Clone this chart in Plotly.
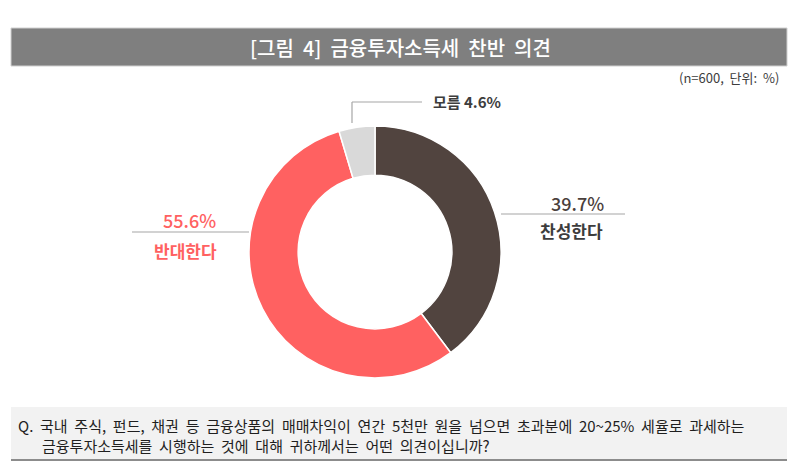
import plotly.graph_objects as go

# The page body has an 8px margin, so the figure is drawn 8px in from the top-left.
OFF = 8
W, H = 800 - OFF, 469 - OFF

labels = ["찬성한다", "반대한다", "모름"]
values = [39.7, 55.6, 4.6]
colors = ["#51443f", "#ff6161", "#d9d9d9"]

NB = "\u00a0"
title_text = "[그림 4] 금융투자소득세 찬반 의견"
note_text = "(n=600, 단위: %)"
q_line1 = "Q. 국내 주식, 펀드, 채권 등 금융상품의 매매차익이 연간 5천만 원을 넘으면 초과분에 20~25% 세율로 과세하는"
q_line2 = "금융투자소득세를 시행하는 것에 대해 귀하께서는 어떤 의견이십니까?"

FONT = "Noto Sans CJK KR"


def wide(s, n=2):
    return s.replace(" ", NB * n)


def px(x):
    return (x - OFF) / W


def py(y):
    return 1 - (y - OFF) / H


cx, cy, r = 375, 252, 126

fig = go.Figure(
    go.Pie(
        labels=labels,
        values=values,
        hole=0.61,
        sort=False,
        direction="clockwise",
        rotation=0,
        marker=dict(colors=colors, line=dict(color="white", width=1.5)),
        textinfo="none",
        hoverinfo="label+percent",
        showlegend=False,
        domain=dict(x=[px(cx - r), px(cx + r)], y=[py(cy + r), py(cy - r)]),
    )
)

shapes = [
    # title bar
    dict(type="rect", xref="paper", yref="paper", x0=px(11), x1=px(787), y0=py(66), y1=py(28),
         fillcolor="#7f7f7f", line=dict(color="#d0d0d0", width=1), layer="below"),
    # question box
    dict(type="rect", xref="paper", yref="paper", x0=px(11), x1=px(787), y0=py(460), y1=py(407),
         fillcolor="#f2f2f2", line=dict(width=0), layer="below"),
    dict(type="line", xref="paper", yref="paper", x0=px(11), x1=px(787), y0=py(460), y1=py(460),
         line=dict(color="#8c8c8c", width=2)),
    # leader lines
    dict(type="line", xref="paper", yref="paper", x0=px(352), x1=px(352), y0=py(123), y1=py(102),
         line=dict(color="#a6a6a6", width=1.2)),
    dict(type="line", xref="paper", yref="paper", x0=px(352), x1=px(422), y0=py(102), y1=py(102),
         line=dict(color="#a6a6a6", width=1.2)),
    dict(type="line", xref="paper", yref="paper", x0=px(501), x1=px(625), y0=py(214), y1=py(214),
         line=dict(color="#a6a6a6", width=1.2)),
    dict(type="line", xref="paper", yref="paper", x0=px(132), x1=px(249), y0=py(232), y1=py(232),
         line=dict(color="#a6a6a6", width=1.2)),
]

dark = "#3d3d3d"
red = "#ff6161"
annotations = [
    dict(text=wide(title_text), x=px(400), y=py(47), xanchor="center", yanchor="middle",
         font=dict(family=FONT, size=20, color="white", weight=500)),
    dict(text=wide(note_text), x=px(781), y=py(77), xanchor="right", yanchor="middle",
         font=dict(family=FONT, size=13, color=dark)),
    dict(text="<b>모름 4.6%</b>", x=px(431), y=py(102), xanchor="left", yanchor="middle",
         font=dict(family=FONT, size=15, color=dark)),
    dict(text="39.7%", x=px(577), y=py(203), xanchor="center", yanchor="middle",
         font=dict(family=FONT, size=18, color="#4a403c", weight=500)),
    dict(text="<b>찬성한다</b>", x=px(571), y=py(230), xanchor="center", yanchor="middle",
         font=dict(family=FONT, size=17, color=dark)),
    dict(text="55.6%", x=px(189), y=py(220), xanchor="center", yanchor="middle",
         font=dict(family=FONT, size=18, color=red, weight=500)),
    dict(text="<b>반대한다</b>", x=px(185), y=py(250), xanchor="center", yanchor="middle",
         font=dict(family=FONT, size=17, color=red)),
    dict(text=wide(q_line1), x=px(16), y=py(425), xanchor="left", yanchor="middle",
         font=dict(family=FONT, size=15, color="#1f1f1f")),
    dict(text=wide(q_line2), x=px(40), y=py(445), xanchor="left", yanchor="middle",
         font=dict(family=FONT, size=15, color="#1f1f1f")),
]
for a in annotations:
    a.update(xref="paper", yref="paper", showarrow=False)

fig.update_layout(
    width=W, height=H,
    margin=dict(l=0, r=0, t=0, b=0),
    paper_bgcolor="white", plot_bgcolor="white",
    shapes=shapes, annotations=annotations,
)

fig.write_html("out.html")
